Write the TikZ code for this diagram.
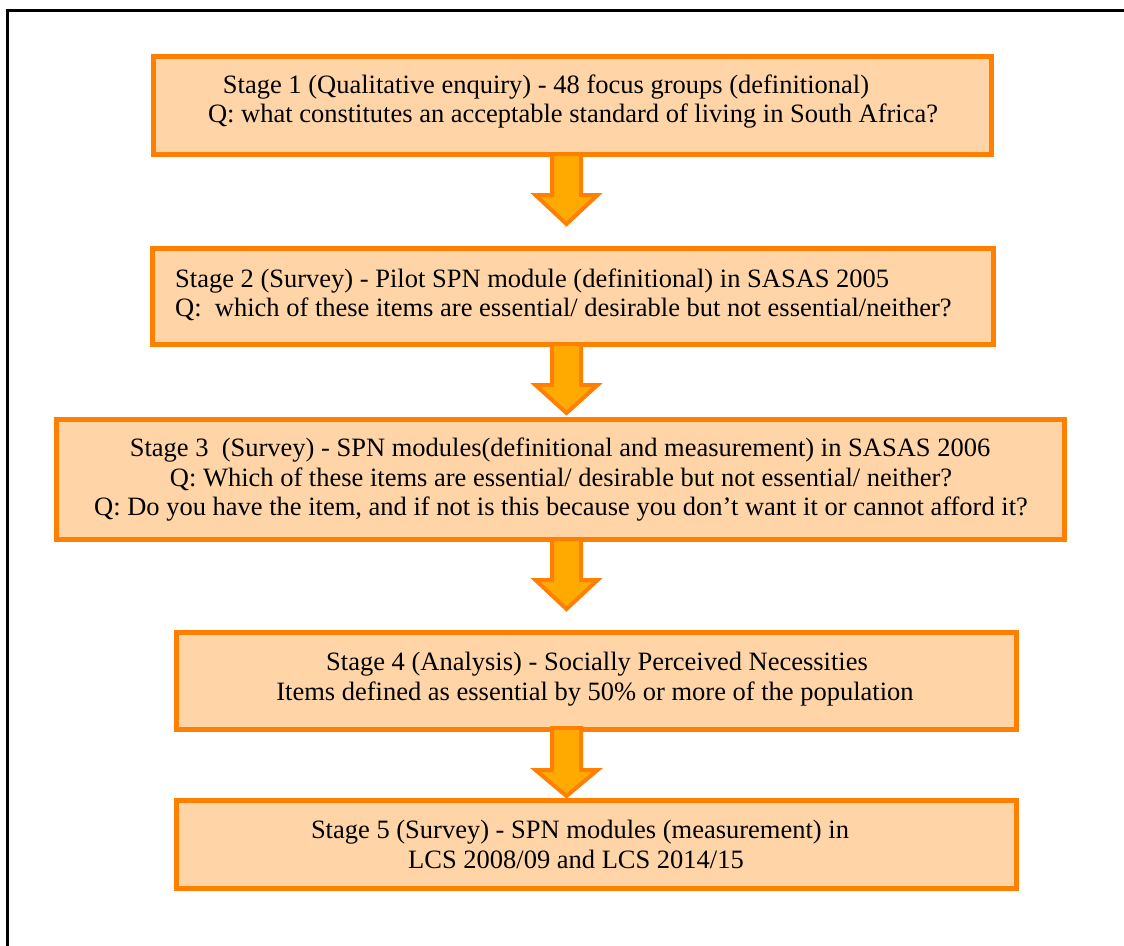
\documentclass[tikz,border=0pt]{standalone}
\usepackage{fontspec}
\setmainfont{Liberation Serif}
\definecolor{boxfill}{RGB}{255,213,168}
\definecolor{boxline}{RGB}{255,128,0}
\definecolor{arrfill}{RGB}{255,170,0}
\tikzset{
  stagebox/.style={draw=boxline, fill=boxfill, line width=5pt, inner sep=0pt, rectangle},
  txt/.style={inner sep=0pt, font=\fontsize{26.5}{30}\selectfont},
  blockarr/.style={draw=boxline, fill=arrfill, line width=4pt, line join=miter},
  frame/.style={draw=black, line width=3pt}
}
\newcommand{\blockarrow}[5]{%
  % #1 name, #2 x, #3 shaft top, #4 head base, #5 tip
  \coordinate (#1) at (#2,#5);
  \draw[blockarr] (#2-14.5,#3) -- (#2+14.5,#3) -- (#2+14.5,#4) -- (#2+31,#4)
    -- (#1) -- (#2-31,#4) -- (#2-14.5,#4) -- cycle;
}
\begin{document}
\begin{tikzpicture}[x=1pt,y=-1pt]
\useasboundingbox (0,0) rectangle (1124,945);
% outer frame (left and top edges)
\coordinate (fbl) at (7,946);
\coordinate (ftl) at (7,10);
\coordinate (ftr) at (1125,10);
\draw[frame] (fbl) -- (ftl) -- (ftr);

% boxes
\node[stagebox, minimum width=838pt, minimum height=98pt] (b1) at (572.5,105.5) {};
\node[stagebox, minimum width=841pt, minimum height=96pt] (b2) at (573,296.5) {};
\node[stagebox, minimum width=1008pt, minimum height=120pt] (b3) at (560.5,479.5) {};
\node[stagebox, minimum width=840pt, minimum height=97pt] (b4) at (596.5,681) {};
\node[stagebox, minimum width=840pt, minimum height=88pt] (b5) at (596.5,844.5) {};

% texts
\node[txt, anchor=base] (t1a) at (546,93) {Stage 1 (Qualitative enquiry) - 48 focus groups (definitional)};
\node[txt, anchor=base] (t1b) at (573,122) {Q: what constitutes an acceptable standard of living in South Africa?};

\node[txt, anchor=base west] (t2a) at (175,287) {Stage 2 (Survey) - Pilot SPN module (definitional) in SASAS 2005};
\node[txt, anchor=base west] (t2b) at (175,316) {Q:~ which of these items are essential/ desirable but not essential/neither?};

\node[txt, anchor=base] (t3a) at (560,456) {Stage 3~ (Survey) - SPN modules(definitional and measurement) in SASAS 2006};
\node[txt, anchor=base] (t3b) at (561,486) {Q: Which of these items are essential/ desirable but not essential/ neither?};
\node[txt, anchor=base] (t3c) at (561,515) {Q: Do you have the item, and if not is this because you don’t want it or cannot afford it?};

\node[txt, anchor=base] (t4a) at (597,670) {Stage 4 (Analysis) - Socially Perceived Necessities};
\node[txt, anchor=base] (t4b) at (595,700) {Items defined as essential by 50\% or more of the population};

\node[txt, anchor=base] (t5a) at (580,838) {Stage 5 (Survey) - SPN modules (measurement) in};
\node[txt, anchor=base] (t5b) at (576,868) {LCS 2008/09 and LCS 2014/15};

% block arrows
\blockarrow{a1}{566.5}{154}{195}{224}
\blockarrow{a2}{566.5}{344}{385}{413}
\blockarrow{a3}{566.5}{539}{580}{609}
\blockarrow{a4}{566.5}{728}{770}{796}
\end{tikzpicture}
\end{document}
